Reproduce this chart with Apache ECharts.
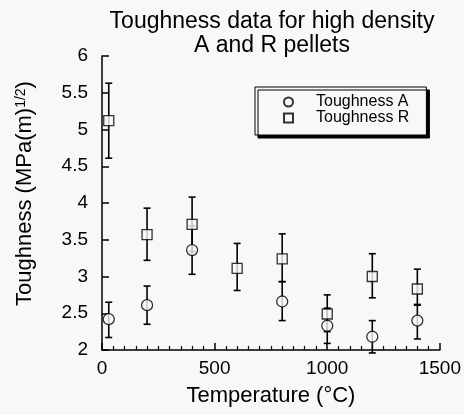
<!DOCTYPE html>
<html><head><meta charset="utf-8">
<script src="https://cdn.jsdelivr.net/npm/echarts@6/dist/echarts.min.js"></script>
<style>html,body{margin:0;padding:0;background:#f8f8f8;}#c{width:464px;height:415px;}</style>
</head><body><div id="c"></div>
<script>
const temps = [30, 200, 400, 600, 800, 1000, 1200, 1400];
const toughA   = [2.42, 2.61, 3.36, null, 2.66, 2.33, 2.18, 2.40];
const toughALo = [2.17, 2.35, 3.03, null, 2.40, 2.09, 1.96, 2.15];
const toughAHi = [2.65, 2.87, 3.69, null, 2.93, 2.57, 2.40, 2.61];
const toughR   = [5.12, 3.57, 3.71, 3.11, 3.24, 2.49, 3.00, 2.83];
const toughRLo = [4.61, 3.22, 3.34, 2.81, 2.93, 2.25, 2.71, 2.62];
const toughRHi = [5.63, 3.93, 4.08, 3.45, 3.58, 2.75, 3.31, 3.10];
const xTicks = [0, 500, 1000, 1500];
const yTicks = [2, 2.5, 3, 3.5, 4, 4.5, 5, 5.5, 6];

const FONT = 'Liberation Sans, Arial, Helvetica, sans-serif';
function pts(v){ const out=[]; temps.forEach((t,i)=>{ if(v[i]!=null) out.push([t,v[i]]); }); return out; }
function errs(lo,hi){ const out=[]; temps.forEach((t,i)=>{ if(lo[i]!=null) out.push([t,lo[i],hi[i]]); }); return out; }
function errRender(params, api){
  const x=api.value(0), lo=api.value(1), hi=api.value(2);
  const a=api.coord([x,hi]), b=api.coord([x,lo]);
  const w=3.5, st={stroke:'#000', lineWidth:1.6};
  return {type:'group', children:[
    {type:'line', shape:{x1:a[0],y1:a[1],x2:b[0],y2:b[1]}, style:st},
    {type:'line', shape:{x1:a[0]-w,y1:a[1],x2:a[0]+w,y2:a[1]}, style:st},
    {type:'line', shape:{x1:b[0]-w,y1:b[1],x2:b[0]+w,y2:b[1]}, style:st}
  ]};
}
const chart = echarts.init(document.getElementById('c'), null, {renderer:'canvas'});
chart.setOption({
  backgroundColor:'#f8f8f8',
  animation:false,
  textStyle:{fontFamily:FONT},
  title:{text:'Toughness data for high density\nA and R pellets', left:272, textAlign:'center', top:10, padding:0,
    textStyle:{fontFamily:FONT, fontSize:23, fontWeight:'normal', color:'#000', lineHeight:24}},
  grid:{left:102, right:21, top:56, bottom:65},
  legend:{
    orient:'vertical', left:255, top:87,
    data:['Toughness A','Toughness R'],
    itemWidth:9, itemHeight:9, itemGap:0,
    padding:[7,17,9,28],
    backgroundColor:'#f8f8f8', borderColor:'#000', borderWidth:1, borderRadius:0,
    shadowColor:'#000', shadowOffsetX:3, shadowOffsetY:3, shadowBlur:0,
    textStyle:{fontFamily:FONT, fontSize:16, color:'#000', padding:[0,0,0,18]}
  },
  xAxis:{type:'value', min:0, max:1500, interval:500,
    name:'Temperature (°C)', nameLocation:'middle', nameGap:35,
    nameTextStyle:{fontFamily:FONT, fontSize:22, color:'#000'},
    axisLine:{show:true, onZero:false, lineStyle:{color:'#000', width:1.5}},
    axisTick:{show:true, inside:true, length:7, lineStyle:{color:'#000', width:1.5}},
    minorTick:{show:true, splitNumber:10, length:4, lineStyle:{color:'#000', width:1.2}},
    axisLabel:{fontFamily:FONT, fontSize:19, color:'#000', margin:9, formatter:v=>xTicks.includes(v)?String(v):''},
    splitLine:{show:false}},
  yAxis:{type:'value', min:2, max:6, interval:0.5,
    name:'{a|Toughness (MPa(m)}{s|1/2}{a|)}', nameLocation:'middle', nameGap:66, nameRotate:90,
    nameTextStyle:{padding:[0,0,0,19], rich:{a:{fontFamily:FONT, fontSize:22, color:'#000'}, s:{fontFamily:FONT, fontSize:14, color:'#000', verticalAlign:'top', padding:[0,0,8,0]}}},
    axisLine:{show:true, onZero:false, lineStyle:{color:'#000', width:1.5}},
    axisTick:{show:true, inside:true, length:7, lineStyle:{color:'#000', width:1.5}},
    axisLabel:{fontFamily:FONT, fontSize:19, color:'#000', margin:14, formatter:v=>yTicks.includes(v)?String(v):''},
    splitLine:{show:false}},
  series:[
    {type:'custom', renderItem:errRender, data:errs(toughALo,toughAHi), clip:false, z:1},
    {type:'custom', renderItem:errRender, data:errs(toughRLo,toughRHi), clip:false, z:1},
    {name:'Toughness A', type:'scatter', data:pts(toughA), symbol:'circle', symbolSize:11, clip:false, z:3,
      itemStyle:{color:'#f8f8f8', borderColor:'#000', borderWidth:1.3}},
    {name:'Toughness R', type:'scatter', data:pts(toughR), symbol:'rect', symbolSize:10, clip:false, z:3,
      itemStyle:{color:'#f8f8f8', borderColor:'#000', borderWidth:1.3}}
  ]
});
</script></body></html>
